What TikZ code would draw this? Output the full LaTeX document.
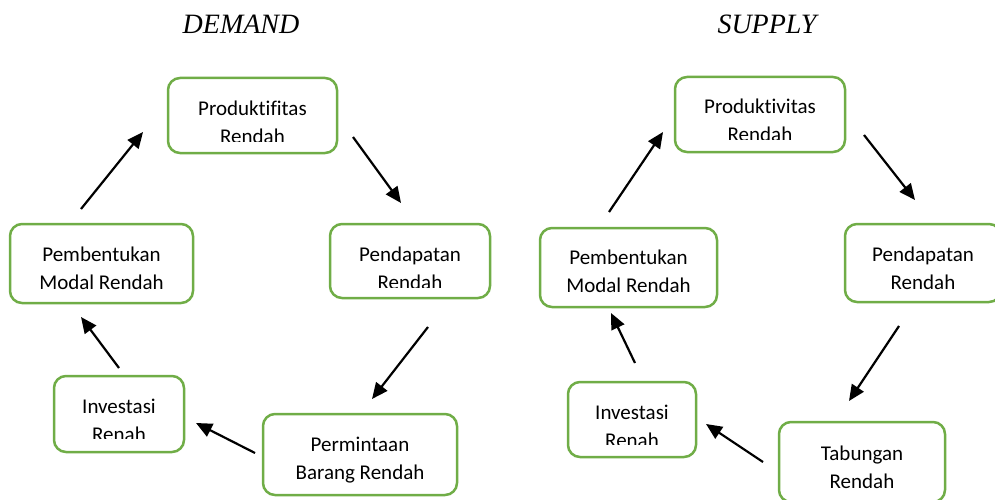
\documentclass[tikz,border=0pt]{standalone}
\usepackage{fontspec}
\newfontfamily\calibrifont[Ligatures={NoCommon}]{Carlito}
\newfontfamily\titlefont{Liberation Serif}
\usetikzlibrary{arrows.meta}
\definecolor{boxgreen}{HTML}{70AD47}
\begin{document}
\begin{tikzpicture}[x=1pt,y=-1pt,
  box/.style={draw=boxgreen,line width=2.5pt,rounded corners=12pt,rectangle,inner sep=0pt},
  txt/.style={font=\calibrifont\fontsize{21}{28}\selectfont,align=center,inner sep=0pt,text=black},
  ttl/.style={font=\titlefont\itshape\fontsize{28}{33}\selectfont,anchor=base,inner sep=0pt},
  arr/.style={-{Triangle[length=16pt,width=14pt]},line width=2.2pt,black}]
\useasboundingbox (0,0) rectangle (995,500);

% titles
\node[ttl] (tDemand) at (241,34) {DEMAND};
\node[ttl] (tSupply) at (767,34) {SUPPLY};

% ---------- DEMAND boxes ----------
\node[box,minimum width=169pt,minimum height=75pt] (dProd) at (252.5,115.5) {};
\node[box,minimum width=160pt,minimum height=74pt] (dPend) at (410,261) {};
\node[box,minimum width=194pt,minimum height=81pt] (dPerm) at (360,454.5) {};
\node[box,minimum width=130pt,minimum height=76pt] (dInv) at (119,414) {};
\node[box,minimum width=183pt,minimum height=79pt] (dPemb) at (101.5,263.5) {};

\begin{scope}
  \clip (160,70) rectangle (345,141.5);
  \node[txt] (dProdT) at (252.5,123.5) {\strut Produktifitas\\\strut Rendah};
\end{scope}
\begin{scope}
  \clip (320,215) rectangle (500,287.5);
  \node[txt] (dPendT) at (410,269.5) {\strut Pendapatan\\\strut Rendah};
\end{scope}
\node[txt] (dPermT) at (360,460) {\strut Permintaan\\\strut Barang Rendah};
\begin{scope}
  \clip (45,365) rectangle (195,438.5);
  \node[txt] (dInvT) at (119,421.5) {\strut Investasi\\\strut Renah};
\end{scope}
\node[txt] (dPembT) at (101.5,270) {\strut Pembentukan\\\strut Modal Rendah};

% ---------- SUPPLY boxes ----------
\node[box,minimum width=170pt,minimum height=75pt] (sProd) at (760,114.5) {};
\node[box,minimum width=156pt,minimum height=78pt] (sPend) at (923,263) {};
\node[box,minimum width=166pt,minimum height=80pt] (sTab) at (862,462) {};
\node[box,minimum width=128pt,minimum height=75pt] (sInv) at (632,419.5) {};
\node[box,minimum width=177pt,minimum height=79pt] (sPemb) at (628.5,267.5) {};

\begin{scope}
  \clip (665,70) rectangle (855,139.5);
  \node[txt] (sProdT) at (760,122) {\strut Produktivitas\\\strut Rendah};
\end{scope}
\node[txt] (sPendT) at (923,269.5) {\strut Pendapatan\\\strut Rendah};
\node[txt] (sTabT) at (862,468.5) {\strut Tabungan\\\strut Rendah};
\begin{scope}
  \clip (560,372) rectangle (705,444.5);
  \node[txt] (sInvT) at (632,427.5) {\strut Investasi\\\strut Renah};
\end{scope}
\node[txt] (sPembT) at (628.5,273) {\strut Pembentukan\\\strut Modal Rendah};

% ---------- arrow end points ----------
\coordinate (a1s) at (81,209);   \coordinate (a1e) at (143,132);
\coordinate (a2s) at (353,137);  \coordinate (a2e) at (401,203);
\coordinate (a3s) at (428,327);  \coordinate (a3e) at (372,399);
\coordinate (a4s) at (255,453);  \coordinate (a4e) at (196,423);
\coordinate (a5s) at (119,368);  \coordinate (a5e) at (81,317);

\coordinate (b1s) at (609,212);  \coordinate (b1e) at (663,132);
\coordinate (b2s) at (864,135);  \coordinate (b2e) at (915,200);
\coordinate (b3s) at (899,326);  \coordinate (b3e) at (849,401);
\coordinate (b4s) at (763,462);  \coordinate (b4e) at (706,424);
\coordinate (b5s) at (635,363);  \coordinate (b5e) at (611,313);

\draw[arr] (a1s) -- (a1e);
\draw[arr] (a2s) -- (a2e);
\draw[arr] (a3s) -- (a3e);
\draw[arr] (a4s) -- (a4e);
\draw[arr] (a5s) -- (a5e);
\draw[arr] (b1s) -- (b1e);
\draw[arr] (b2s) -- (b2e);
\draw[arr] (b3s) -- (b3e);
\draw[arr] (b4s) -- (b4e);
\draw[arr] (b5s) -- (b5e);
\end{tikzpicture}
\end{document}
